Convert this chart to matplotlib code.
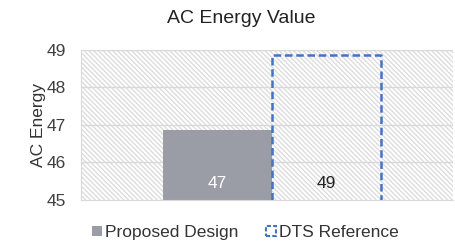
import numpy as np
import matplotlib.pyplot as plt
from matplotlib.patches import Rectangle, Patch

plt.rcParams['font.family'] = ['Liberation Sans', 'DejaVu Sans']
plt.rcParams['hatch.color'] = '#dadada'
plt.rcParams['hatch.linewidth'] = 0.9

series = ['Proposed Design', 'DTS Reference']
values = [46.87, 48.86]
labels = ['47', '49']

fig = plt.figure(figsize=(4.55, 2.45), dpi=100)
ax = fig.add_axes([0.178, 0.184, 0.818, 0.612])

# hatched plot area background
ax.add_patch(Rectangle((0, 0), 1, 1, transform=ax.transAxes, facecolor='white',
                       edgecolor='#dadada', hatch='\\' * 7, linewidth=0, zorder=0))

for y in [46, 47, 48, 49]:
    ax.axhline(y, color='#d9d9d9', lw=1, zorder=1)

x = np.arange(len(series))
ax.bar(x[0], values[0] - 45, bottom=45, width=1.0, color='#9a9ca6', zorder=2)
# dashed outline bar, open at the bottom
ax.plot([x[1] - 0.5, x[1] - 0.5, x[1] + 0.5, x[1] + 0.5], [45, values[1], values[1], 45],
        color='#4472c4', linestyle=(0, (3, 1.5)), linewidth=1.8, zorder=3)

ax.text(x[0], 45.45, labels[0], ha='center', va='center', color='white', fontsize=12.5)
ax.text(x[1], 45.45, labels[1], ha='center', va='center', color='#222222', fontsize=12.5)

ax.set_xlim(-1.252, 2.16)
ax.set_ylim(45, 49)
ax.set_yticks([45, 46, 47, 48, 49])
ax.set_xticks([])
ax.tick_params(axis='y', length=0, labelsize=12.5, colors='#404040', pad=11)
for s in ['top', 'right']:
    ax.spines[s].set_visible(False)
ax.spines['left'].set_color('#d9d9d9')
ax.spines['bottom'].set_color('#d9d9d9')
ax.set_ylabel('AC Energy', fontsize=12.5, color='#333333', labelpad=0)

fig.text(0.53, 0.925, 'AC Energy Value', ha='center', va='center', fontsize=14, color='#222222')

handles = [Patch(facecolor='#9a9ca6', edgecolor='none', label=series[0]),
           Patch(facecolor='white', edgecolor='#4472c4', linestyle=(0, (2, 1)), linewidth=1.5, label=series[1])]
fig.legend(handles=handles, loc='center', bbox_to_anchor=(0.54, 0.05), ncol=2, frameon=False,
           fontsize=12.5, handlelength=0.55, handleheight=0.55, handletextpad=0.2, columnspacing=1.6,
           labelcolor='#333333')

fig.savefig('out.png', dpi=100)
